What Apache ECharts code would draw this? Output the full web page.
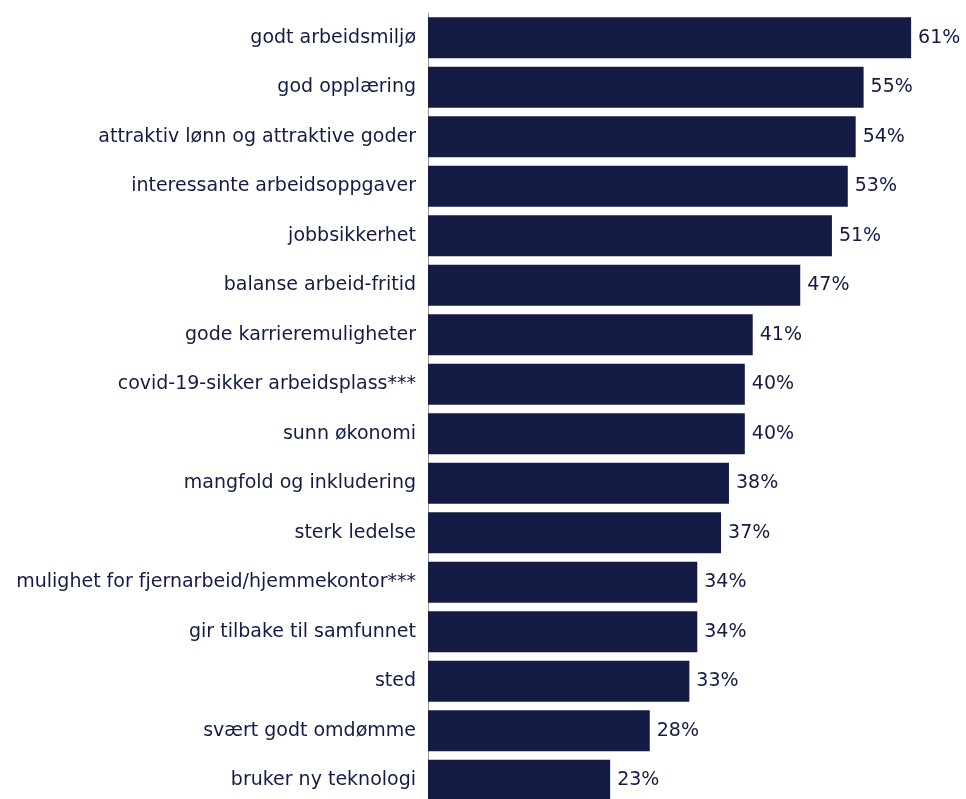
<!DOCTYPE html>
<html>
<head>
<meta charset="utf-8">
<style>
  html, body { margin: 0; padding: 0; background: #ffffff; overflow: hidden; }
  #chart { width: 1000px; height: 810px; }
</style>
<script src="https://cdn.jsdelivr.net/npm/echarts@6/dist/echarts.min.js"></script>
</head>
<body>
<div id="chart"></div>
<script>
// Factors, top to bottom, with share of respondents (%)
const categories = [
  "godt arbeidsmiljø",
  "god opplæring",
  "attraktiv lønn og attraktive goder",
  "interessante arbeidsoppgaver",
  "jobbsikkerhet",
  "balanse arbeid-fritid",
  "gode karrieremuligheter",
  "covid-19-sikker arbeidsplass***",
  "sunn økonomi",
  "mangfold og inkludering",
  "sterk ledelse",
  "mulighet for fjernarbeid/hjemmekontor***",
  "gir tilbake til samfunnet",
  "sted",
  "svært godt omdømme",
  "bruker ny teknologi"
];
const values = [61, 55, 54, 53, 51, 47, 41, 40, 40, 38, 37, 34, 34, 33, 28, 23];

const navy = "#141b45";
const font = "DejaVu Sans";

const chart = echarts.init(document.getElementById("chart"), null, { renderer: "canvas" });
chart.setOption({
  animation: false,
  backgroundColor: "#ffffff",
  grid: { left: 428, top: 13, width: 554.4, height: 792, containLabel: false },
  xAxis: {
    type: "value",
    min: 0,
    max: 70,
    show: false
  },
  yAxis: {
    type: "category",
    inverse: true,
    data: categories,
    axisLine: { show: true, lineStyle: { color: "#9a9a9a", width: 1 } },
    axisTick: { show: false },
    axisLabel: {
      color: navy,
      fontFamily: font,
      fontSize: 19,
      margin: 12
    }
  },
  series: [{
    type: "bar",
    data: values,
    barCategoryGap: "17%",
    itemStyle: { color: navy },
    label: {
      show: true,
      position: "right",
      distance: 7,
      formatter: "{c}%",
      color: navy,
      fontFamily: font,
      fontSize: 19
    }
  }]
});
</script>
</body>
</html>
